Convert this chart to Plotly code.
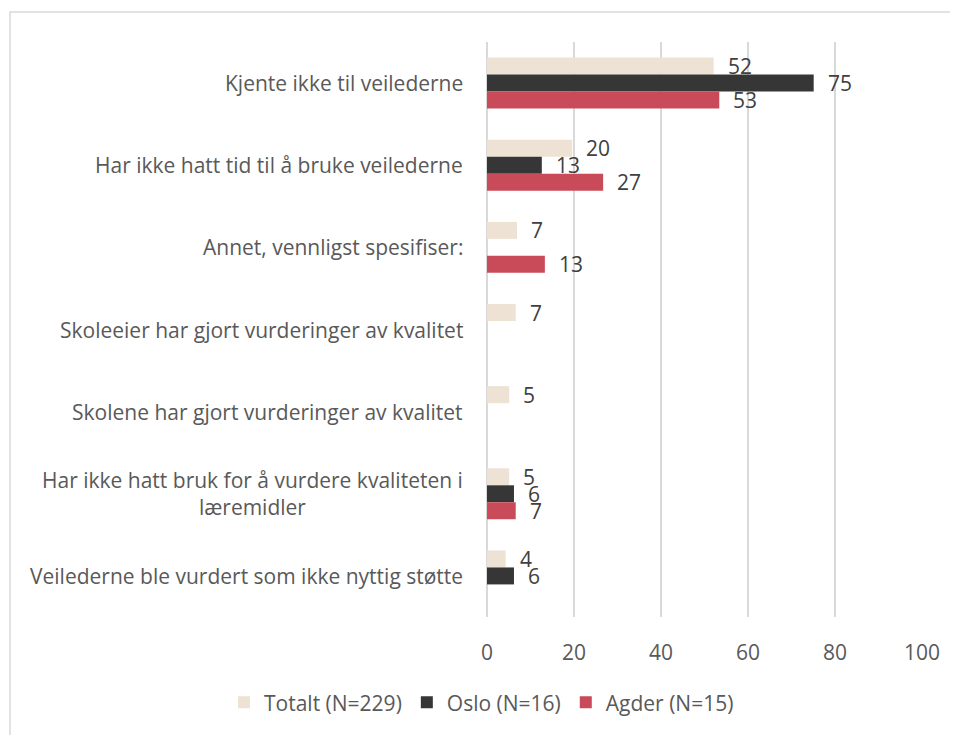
import plotly.graph_objects as go

categories = [
    "Kjente ikke til veilederne",
    "Har ikke hatt tid til å bruke veilederne",
    "Annet, vennligst spesifiser:",
    "Skoleeier har gjort vurderinger av kvalitet",
    "Skolene har gjort vurderinger av kvalitet",
    "Har ikke hatt bruk for å vurdere kvaliteten i<br>læremidler",
    "Veilederne ble vurdert som ikke nyttig støtte",
]
totalt = [52.1, 19.6, 6.9, 6.6, 5.1, 5.1, 4.3]
oslo = [75.1, 12.6, None, None, None, 6.2, 6.2]
agder = [53.4, 26.7, 13.3, None, None, 6.6, None]
series_names = ["Totalt (N=229)", "Oslo (N=16)", "Agder (N=15)"]
colors = ["#EDE2D3", "#363636", "#C94A58"]
x_ticks = [0, 20, 40, 60, 80, 100]

FONT = "Open Sans"
FS = 21
OFF = 8  # page body margin
W, H = 958 - OFF, 735 - OFF
L, T = 487 - OFF, 42 - OFF
R = W - (922 - OFF)
B = H - (619 - OFF)
pw, ph = W - L - R, H - T - B

fig = go.Figure()
series = [totalt, oslo, agder]
for name, vals, col in zip(series_names, series, colors):
    fig.add_trace(go.Bar(
        y=categories, x=vals, name=name, orientation="h",
        marker=dict(color=col, line=dict(width=0)),
        hoverinfo="x+name",
    ))

annotations = []
shifts = [17, 0, -17]
for vals, ys in zip(series, shifts):
    for c, v in zip(categories, vals):
        if v is None:
            continue
        annotations.append(dict(
            x=v, y=c, xref="x", yref="y", text=f"{v:.0f}", showarrow=False,
            xanchor="left", yanchor="middle", xshift=12, yshift=ys,
            font=dict(family=FONT, size=FS, color="#404040"),
        ))
for c in categories:
    annotations.append(dict(
        x=0, y=c, xref="paper", yref="y", text=c, showarrow=False,
        xanchor="right", yanchor="middle", xshift=-22, align="center",
        font=dict(family=FONT, size=FS, color="#595959"),
    ))


def px_to_paper_x(px):
    return (px - OFF - L) / pw


def py_to_paper_y(py):
    return 1 - (py - OFF - T) / ph


shapes = [dict(
    type="rect", xref="paper", yref="paper",
    x0=px_to_paper_x(10), x1=px_to_paper_x(975),
    y0=py_to_paper_y(760), y1=py_to_paper_y(12),
    line=dict(color="#D9D9D9", width=1.5), fillcolor="rgba(0,0,0,0)", layer="below",
)]

fig.update_layout(
    width=W, height=H,
    margin=dict(l=L, r=R, t=T, b=B, pad=0),
    paper_bgcolor="white", plot_bgcolor="white",
    barmode="group", bargap=0.38, bargroupgap=0,
    font=dict(family=FONT, size=FS, color="#595959"),
    xaxis=dict(
        range=[0, 100], tickvals=x_ticks, ticktext=[str(t) for t in x_ticks],
        showgrid=True, gridcolor="#D9D9D9", gridwidth=1.5,
        zeroline=True, zerolinecolor="#D9D9D9", zerolinewidth=1.5,
        showline=False, ticks="outside", ticklen=17, tickcolor="rgba(0,0,0,0)",
        tickfont=dict(family=FONT, size=FS, color="#595959"), fixedrange=True,
    ),
    yaxis=dict(
        autorange="reversed", showticklabels=False, showgrid=False,
        zeroline=False, showline=False, ticks="",
    ),
    legend=dict(
        orientation="h", x=px_to_paper_x(224), xanchor="left",
        y=py_to_paper_y(705), yanchor="middle",
        font=dict(family=FONT, size=FS, color="#595959"),
        itemwidth=30, traceorder="normal", entrywidth=0,
    ),
    annotations=annotations,
    shapes=shapes,
)

fig.write_html("out.html")
